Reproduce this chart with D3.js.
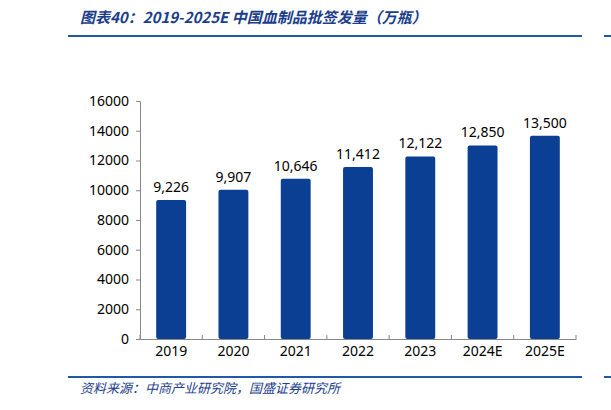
<!DOCTYPE html><html><head><meta charset="utf-8"><script src="https://cdn.jsdelivr.net/npm/d3@7"></script>
<style>body{margin:0;background:#fff}</style></head><body><svg id="c" width="611" height="410"></svg><script>
const categories=["2019","2020","2021","2022","2023","2024E","2025E"];
const values=[9226,9907,10646,11412,12122,12850,13500];
const yTicks=[0,2000,4000,6000,8000,10000,12000,14000,16000];
const svg=d3.select("#c");
const blue="#0a3f94";
svg.append("text").attr("x",80).attr("y",23).attr("fill","#1a3d8c").attr("font-style","italic").attr("font-weight","bold").attr("font-size",15).attr("font-family","Noto Sans CJK SC").text("图表40：2019-2025E 中国血制品批签发量（万瓶）");
[[68,582],[604,611]].forEach(([a,b])=>{svg.append("line").attr("x1",a).attr("x2",b).attr("y1",36).attr("y2",36).attr("stroke","#1f5aa8").attr("stroke-width",2);
svg.append("line").attr("x1",a).attr("x2",b).attr("y1",377).attr("y2",377).attr("stroke","#1f5aa8").attr("stroke-width",2);});
svg.append("text").attr("x",80).attr("y",393).attr("fill","#1a3d8c").attr("font-style","italic").attr("font-size",13).attr("font-family","Noto Sans CJK SC").text("资料来源：中商产业研究院，国盛证券研究所");
const x=d3.scaleBand().domain(categories).range([140,576]).paddingInner(0.52).paddingOuter(0.26);
const y=d3.scaleLinear().domain([0,16000]).range([339,98]);
svg.selectAll("rect.b").data(values).join("rect").attr("x",(d,i)=>x(categories[i])).attr("width",x.bandwidth()).attr("y",d=>y(d)).attr("height",d=>y(0)-y(d)).attr("fill",blue).attr("rx",2);
svg.selectAll("text.v").data(values).join("text").attr("x",(d,i)=>x(categories[i])+x.bandwidth()/2).attr("y",d=>y(d)-8).attr("text-anchor","middle").attr("font-family","Noto Sans").attr("font-size",14).attr("fill","#000").text(d=>d3.format(",")(d));
const y2=d3.scaleLinear().domain([0,16000]).range([339,101]);
const ya=svg.append("g").attr("transform","translate(140,0)").call(d3.axisLeft(y2).tickValues(yTicks).tickSize(4).tickFormat(d3.format("d")));
ya.selectAll("text").attr("font-family","Noto Sans").attr("font-size",14).attr("fill","#000").attr("dx",-4);
const xa=svg.append("g").attr("transform","translate(0,339)").call(d3.axisBottom(x).tickSize(0));
xa.selectAll("text").attr("font-family","Noto Sans").attr("font-size",14).attr("fill","#000").attr("dy",14);
[ya,xa].forEach(g=>g.selectAll("path,line").attr("stroke","#888"));
const step=x.step();
svg.selectAll("line.t").data(d3.range(categories.length+1)).join("line").attr("x1",d=>140+d*step).attr("x2",d=>140+d*step).attr("y1",339).attr("y2",335).attr("stroke","#888");
</script></body></html>
